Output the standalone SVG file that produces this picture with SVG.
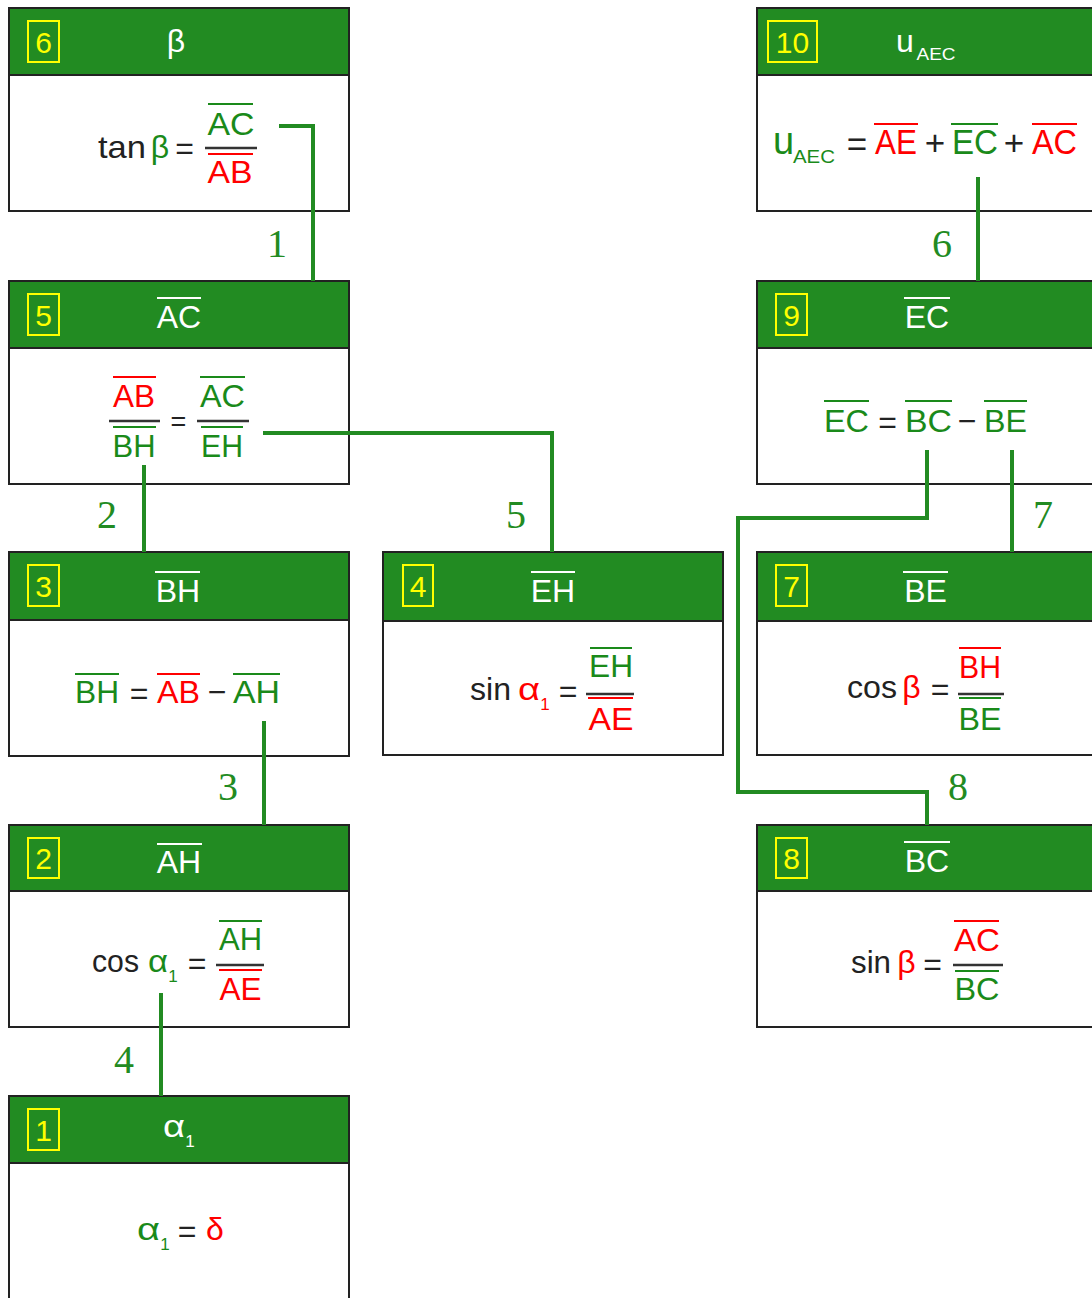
<svg xmlns="http://www.w3.org/2000/svg" width="1092" height="1298" viewBox="0 0 1092 1298">
<style>
.box{fill:#fff;stroke:#222;stroke-width:2}
.hdr{fill:#228B22;stroke:#222;stroke-width:2}
.badge{fill:none;stroke:#ff0;stroke-width:2}
.num{font-family:"Liberation Sans",Arial,sans-serif;font-size:30px;fill:#ff0;text-anchor:middle}
.ttl{font-family:"Liberation Sans",Arial,sans-serif;font-size:32px;fill:#fff;text-anchor:middle}
.f{font-family:"Liberation Sans",Arial,sans-serif;font-size:32px;text-anchor:middle}
.big{font-size:35px}
.sub{font-size:17px}
.g{fill:#1a8a1a}.r{fill:#ff0000}.k{fill:#222}.w{fill:#fff}
.olg{stroke:#1a8a1a;stroke-width:2}
.olr{stroke:#ff0000;stroke-width:2}
.olw{stroke:#fff;stroke-width:2}
.bar{stroke:#333;stroke-width:2.5}
.conn{fill:none;stroke:#228B22;stroke-width:4}
.lbl{font-family:"Liberation Serif","Times New Roman",serif;font-size:40px;fill:#228B22;text-anchor:middle}
</style>

<!-- Node 6 -->
<g id="node6">
<rect class="box" x="9" y="8" width="340" height="203"/>
<rect class="hdr" x="9" y="8" width="340" height="67"/>
<rect class="badge" x="28" y="21" width="31" height="41"/>
<text class="num" x="43.5" y="53">6</text>
<text class="ttl" x="176" y="52">β</text>
<text class="f k" x="122" y="158" textLength="48" lengthAdjust="spacingAndGlyphs">tan</text>
<text class="f g" x="160" y="158">β</text>
<text class="f k" x="184.5" y="159">=</text>
<line class="bar" x1="205" y1="148" x2="257" y2="148"/>
<line class="olg" x1="208" y1="104" x2="253" y2="104"/>
<text class="f g" x="231" y="135" textLength="47" lengthAdjust="spacingAndGlyphs">AC</text>
<line class="olr" x1="208" y1="154" x2="253" y2="154"/>
<text class="f r" x="230" y="183" textLength="45" lengthAdjust="spacingAndGlyphs">AB</text>
</g>

<!-- Node 5 -->
<g id="node5">
<rect class="box" x="9" y="281" width="340" height="203"/>
<rect class="hdr" x="9" y="281" width="340" height="67"/>
<rect class="badge" x="28" y="294" width="31" height="41"/>
<text class="num" x="43.5" y="326">5</text>
<line class="olw" x1="157" y1="298" x2="201" y2="298"/>
<text class="ttl" x="179" y="328">AC</text>
<line class="bar" x1="109" y1="421" x2="160" y2="421"/>
<line class="olr" x1="113" y1="377" x2="156" y2="377"/>
<text class="f r" x="134" y="407" textLength="42" lengthAdjust="spacingAndGlyphs">AB</text>
<line class="olg" x1="113" y1="427" x2="156" y2="427"/>
<text class="f g" x="134" y="457" textLength="43" lengthAdjust="spacingAndGlyphs">BH</text>
<text class="f k" x="178.5" y="431" style="font-size:27px">=</text>
<line class="bar" x1="197" y1="421" x2="249" y2="421"/>
<line class="olg" x1="200" y1="377" x2="245" y2="377"/>
<text class="f g" x="222.5" y="407" textLength="45" lengthAdjust="spacingAndGlyphs">AC</text>
<line class="olg" x1="201" y1="427" x2="243" y2="427"/>
<text class="f g" x="222" y="457" textLength="42" lengthAdjust="spacingAndGlyphs">EH</text>
</g>

<!-- Node 3 -->
<g id="node3">
<rect class="box" x="9" y="552" width="340" height="204"/>
<rect class="hdr" x="9" y="552" width="340" height="68"/>
<rect class="badge" x="28" y="565" width="31" height="41"/>
<text class="num" x="43.5" y="597">3</text>
<line class="olw" x1="155" y1="572" x2="200" y2="572"/>
<text class="ttl" x="178" y="602">BH</text>
<line class="olg" x1="75" y1="674" x2="119" y2="674"/>
<text class="f g" x="97" y="703" textLength="44" lengthAdjust="spacingAndGlyphs">BH</text>
<text class="f k" x="139" y="704">=</text>
<line class="olr" x1="157" y1="674" x2="200" y2="674"/>
<text class="f r" x="178.5" y="703" textLength="43" lengthAdjust="spacingAndGlyphs">AB</text>
<text class="f k" x="217" y="703">−</text>
<line class="olg" x1="233" y1="674" x2="280" y2="674"/>
<text class="f g" x="256.5" y="703" textLength="47" lengthAdjust="spacingAndGlyphs">AH</text>
</g>

<!-- Node 2 -->
<g id="node2">
<rect class="box" x="9" y="825" width="340" height="202"/>
<rect class="hdr" x="9" y="825" width="340" height="66"/>
<rect class="badge" x="28" y="838" width="31" height="40"/>
<text class="num" x="43.5" y="869">2</text>
<line class="olw" x1="157" y1="844" x2="202" y2="844"/>
<text class="ttl" x="179" y="873">AH</text>
<text class="f k" x="115.5" y="972" textLength="47" lengthAdjust="spacingAndGlyphs">cos</text>
<text class="f g" x="158" y="972" textLength="20" lengthAdjust="spacingAndGlyphs">α</text>
<text class="f g sub" x="173" y="982">1</text>
<text class="f k" x="197" y="974">=</text>
<line class="bar" x1="216" y1="965" x2="264" y2="965"/>
<line class="olg" x1="219" y1="921" x2="262" y2="921"/>
<text class="f g" x="240.5" y="950" textLength="43" lengthAdjust="spacingAndGlyphs">AH</text>
<line class="olr" x1="219" y1="970" x2="262" y2="970"/>
<text class="f r" x="240.5" y="1000" textLength="42" lengthAdjust="spacingAndGlyphs">AE</text>
</g>

<!-- Node 1 -->
<g id="node1">
<rect class="box" x="9" y="1096" width="340" height="203"/>
<rect class="hdr" x="9" y="1096" width="340" height="67"/>
<rect class="badge" x="28" y="1109" width="31" height="41"/>
<text class="num" x="43.5" y="1141">1</text>
<text class="ttl" x="174" y="1137" textLength="22" lengthAdjust="spacingAndGlyphs">α</text>
<text class="ttl sub" x="190" y="1147">1</text>
<text class="f g" x="148.5" y="1240" textLength="23" lengthAdjust="spacingAndGlyphs">α</text>
<text class="f g sub" x="165" y="1250">1</text>
<text class="f k" x="187" y="1242">=</text>
<text class="f r" x="215" y="1240">δ</text>
</g>

<!-- Node 4 -->
<g id="node4">
<rect class="box" x="383" y="552" width="340" height="203"/>
<rect class="hdr" x="383" y="552" width="340" height="69"/>
<rect class="badge" x="403" y="565" width="30" height="41"/>
<text class="num" x="418" y="597">4</text>
<line class="olw" x1="531" y1="572" x2="575" y2="572"/>
<text class="ttl" x="553" y="602">EH</text>
<text class="f k" x="490.5" y="700" textLength="41" lengthAdjust="spacingAndGlyphs">sin</text>
<text class="f r" x="529" y="700" textLength="22" lengthAdjust="spacingAndGlyphs">α</text>
<text class="f r sub" x="545" y="710">1</text>
<text class="f k" x="568" y="702">=</text>
<line class="bar" x1="586" y1="694" x2="634" y2="694"/>
<line class="olg" x1="590" y1="648" x2="632" y2="648"/>
<text class="f g" x="611" y="677" textLength="44" lengthAdjust="spacingAndGlyphs">EH</text>
<line class="olr" x1="588" y1="698" x2="633" y2="698"/>
<text class="f r" x="611" y="730" textLength="45" lengthAdjust="spacingAndGlyphs">AE</text>
</g>

<!-- Node 10 -->
<g id="node10">
<rect class="box" x="757" y="8" width="340" height="203"/>
<rect class="hdr" x="757" y="8" width="340" height="67"/>
<rect class="badge" x="768" y="21" width="49" height="41"/>
<text class="num" x="792.5" y="53">10</text>
<text class="ttl" x="905" y="52">u</text>
<text class="ttl" x="936" y="60" style="font-size:17px" textLength="39" lengthAdjust="spacingAndGlyphs">AEC</text>
<text class="f g" x="783.5" y="154" style="font-size:38px">u</text>
<text class="f g" x="814" y="163" style="font-size:19px" textLength="42" lengthAdjust="spacingAndGlyphs">AEC</text>
<text class="f k big" x="857" y="156">=</text>
<line class="olr" x1="874" y1="124" x2="918" y2="124"/>
<text class="f r big" x="896" y="154" textLength="42" lengthAdjust="spacingAndGlyphs">AE</text>
<text class="f k big" x="935" y="155">+</text>
<line class="olg" x1="951" y1="124" x2="998" y2="124"/>
<text class="f g big" x="975" y="154" textLength="46" lengthAdjust="spacingAndGlyphs">EC</text>
<text class="f k big" x="1014" y="155">+</text>
<line class="olr" x1="1032" y1="124" x2="1077" y2="124"/>
<text class="f r big" x="1054.5" y="154" textLength="45" lengthAdjust="spacingAndGlyphs">AC</text>
</g>

<!-- Node 9 -->
<g id="node9">
<rect class="box" x="757" y="281" width="340" height="203"/>
<rect class="hdr" x="757" y="281" width="340" height="67"/>
<rect class="badge" x="776" y="294" width="31" height="41"/>
<text class="num" x="791.5" y="326">9</text>
<line class="olw" x1="904" y1="298" x2="950" y2="298"/>
<text class="ttl" x="927" y="328">EC</text>
<line class="olg" x1="824" y1="401" x2="869" y2="401"/>
<text class="f g" x="846.5" y="432" textLength="45" lengthAdjust="spacingAndGlyphs">EC</text>
<text class="f k" x="887.5" y="433">=</text>
<line class="olg" x1="905" y1="401" x2="952" y2="401"/>
<text class="f g" x="928.5" y="432" textLength="47" lengthAdjust="spacingAndGlyphs">BC</text>
<text class="f k" x="967" y="432">−</text>
<line class="olg" x1="984" y1="401" x2="1027" y2="401"/>
<text class="f g" x="1005.5" y="432" textLength="43" lengthAdjust="spacingAndGlyphs">BE</text>
</g>

<!-- Node 7 -->
<g id="node7">
<rect class="box" x="757" y="552" width="340" height="203"/>
<rect class="hdr" x="757" y="552" width="340" height="69"/>
<rect class="badge" x="776" y="565" width="31" height="41"/>
<text class="num" x="791.5" y="597">7</text>
<line class="olw" x1="903" y1="572" x2="948" y2="572"/>
<text class="ttl" x="925.5" y="602">BE</text>
<text class="f k" x="872" y="698" textLength="50" lengthAdjust="spacingAndGlyphs">cos</text>
<text class="f r" x="911.5" y="698">β</text>
<text class="f k" x="940" y="700">=</text>
<line class="bar" x1="958" y1="694" x2="1004" y2="694"/>
<line class="olr" x1="959" y1="648" x2="1001" y2="648"/>
<text class="f r" x="980" y="678" textLength="42" lengthAdjust="spacingAndGlyphs">BH</text>
<line class="olg" x1="959" y1="698" x2="1001" y2="698"/>
<text class="f g" x="980" y="730" textLength="43" lengthAdjust="spacingAndGlyphs">BE</text>
</g>

<!-- Node 8 -->
<g id="node8">
<rect class="box" x="757" y="825" width="340" height="202"/>
<rect class="hdr" x="757" y="825" width="340" height="66"/>
<rect class="badge" x="776" y="838" width="31" height="40"/>
<text class="num" x="791.5" y="869">8</text>
<line class="olw" x1="904" y1="842" x2="950" y2="842"/>
<text class="ttl" x="927" y="872">BC</text>
<text class="f k" x="871" y="973" textLength="40" lengthAdjust="spacingAndGlyphs">sin</text>
<text class="f r" x="906.5" y="973">β</text>
<text class="f k" x="932.5" y="975">=</text>
<line class="bar" x1="953" y1="965" x2="1003" y2="965"/>
<line class="olr" x1="954" y1="921" x2="999" y2="921"/>
<text class="f r" x="977" y="951" textLength="46" lengthAdjust="spacingAndGlyphs">AC</text>
<line class="olg" x1="955" y1="971" x2="999" y2="971"/>
<text class="f g" x="977" y="1000" textLength="45" lengthAdjust="spacingAndGlyphs">BC</text>
</g>

<g id="connectors">
<polyline class="conn" points="279,126 313,126 313,281"/>
<polyline class="conn" points="144,465 144,552"/>
<polyline class="conn" points="263,433 552,433 552,552"/>
<polyline class="conn" points="264,721 264,825"/>
<polyline class="conn" points="161,993 161,1096"/>
<polyline class="conn" points="978,177 978,281"/>
<polyline class="conn" points="1012,450 1012,552"/>
<polyline class="conn" points="927,450 927,518 738,518 738,792 927,792 927,825"/>
<text class="lbl" x="277" y="257">1</text>
<text class="lbl" x="107" y="528">2</text>
<text class="lbl" x="228" y="800">3</text>
<text class="lbl" x="124" y="1073">4</text>
<text class="lbl" x="516" y="528">5</text>
<text class="lbl" x="942" y="257">6</text>
<text class="lbl" x="1043" y="528">7</text>
<text class="lbl" x="958" y="800">8</text>
</g>
</svg>
